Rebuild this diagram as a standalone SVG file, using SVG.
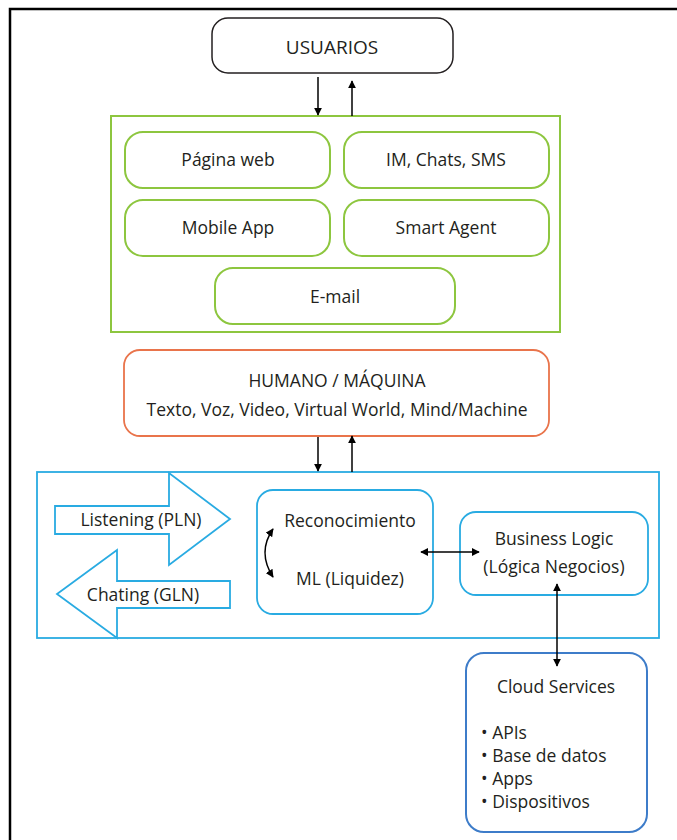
<svg xmlns="http://www.w3.org/2000/svg" width="677" height="840" viewBox="0 0 677 840">
  <style>
    text { font-family: "Open Sans", "Noto Sans", "DejaVu Sans", sans-serif; fill: #231f20; text-anchor: middle; }
    .t15 { font-size: 17.5px; }
    .t-big { font-size: 19px; }
    .box-black { fill: #fff; stroke: #231f20; stroke-width: 1.5; }
    .box-green { fill: #fff; stroke: #8dc63f; stroke-width: 2; }
    .box-orange { fill: #fff; stroke: #e9744b; stroke-width: 1.8; }
    .box-blue { fill: #fff; stroke: #29abe2; stroke-width: 1.8; }
    .box-dblue { fill: #fff; stroke: #3d7cc9; stroke-width: 2; }
    .conn { stroke: #000; stroke-width: 1.5; fill: none; }
  </style>
  <defs>
    <marker id="ah" viewBox="0 0 10 10" refX="9" refY="5" markerWidth="8" markerHeight="8" markerUnits="userSpaceOnUse" orient="auto-start-reverse">
      <path d="M0,0 L10,5 L0,10 z" fill="#000"/>
    </marker>
  </defs>

  <rect width="677" height="840" fill="#fff"/>
  <!-- page frame -->
  <path d="M10,840 V9 H677" fill="none" stroke="#000" stroke-width="2.5"/>

  <g id="usuarios">
    <rect class="box-black" x="212" y="18" width="241" height="55" rx="16"/>
    <text class="t-big" x="332" y="54">USUARIOS</text>
  </g>

  <g id="canales">
    <rect class="box-green" x="111" y="116" width="449" height="216"/>
  </g>
  <g id="pagina-web">
    <rect class="box-green" x="125" y="132" width="205" height="56" rx="18"/>
    <text class="t15" x="228" y="166">Página web</text>
  </g>
  <g id="im-chats">
    <rect class="box-green" x="344" y="132" width="205" height="56" rx="18"/>
    <text class="t15" x="446" y="166">IM, Chats, SMS</text>
  </g>
  <g id="mobile-app">
    <rect class="box-green" x="125" y="200" width="205" height="56" rx="18"/>
    <text class="t15" x="228" y="234">Mobile App</text>
  </g>
  <g id="smart-agent">
    <rect class="box-green" x="344" y="200" width="205" height="56" rx="18"/>
    <text class="t15" x="446" y="234">Smart Agent</text>
  </g>
  <g id="email">
    <rect class="box-green" x="215" y="268" width="240" height="56" rx="18"/>
    <text class="t15" x="335" y="303">E-mail</text>
  </g>

  <g id="humano-maquina">
    <rect class="box-orange" x="124" y="350" width="425" height="86" rx="16"/>
    <text class="t15" x="337" y="387">HUMANO / MÁQUINA</text>
    <text class="t15" x="337" y="416">Texto, Voz, Video, Virtual World, Mind/Machine</text>
  </g>

  <g id="procesamiento">
    <rect class="box-blue" x="37" y="472" width="622" height="166"/>
  </g>
  <g id="listening">
    <path class="box-blue" d="M55,506 H169 V473 L230,519 L169,565 V534 H55 Z"/>
    <text class="t15" x="141" y="526">Listening (PLN)</text>
  </g>
  <g id="chating">
    <path class="box-blue" d="M230,581 H117 V550 L57,594 L117,638 V608 H230 Z"/>
    <text class="t15" x="143" y="601">Chating (GLN)</text>
  </g>
  <g id="reconocimiento">
    <rect class="box-blue" x="257" y="490" width="176" height="124" rx="16"/>
    <text class="t15" x="350" y="527">Reconocimiento</text>
    <text class="t15" x="350" y="585">ML (Liquidez)</text>
  </g>
  <g id="business-logic">
    <rect class="box-blue" x="460" y="512" width="188" height="83" rx="16"/>
    <text class="t15" x="554" y="545">Business Logic</text>
    <text class="t15" x="554" y="573">(Lógica Negocios)</text>
  </g>

  <g id="cloud-services">
    <rect class="box-dblue" x="466" y="653" width="181" height="179" rx="18"/>
    <text class="t15" x="556" y="693">Cloud Services</text>
    <text class="t15" x="481" y="739" style="text-anchor:start">• APIs</text>
    <text class="t15" x="481" y="762" style="text-anchor:start">• Base de datos</text>
    <text class="t15" x="481" y="785" style="text-anchor:start">• Apps</text>
    <text class="t15" x="481" y="808" style="text-anchor:start">• Dispositivos</text>
  </g>

  <g id="connectors">
    <line class="conn" x1="318" y1="77" x2="318" y2="115" marker-end="url(#ah)"/>
    <line class="conn" x1="352" y1="116" x2="352" y2="81" marker-end="url(#ah)"/>
    <line class="conn" x1="318" y1="437" x2="318" y2="471" marker-end="url(#ah)"/>
    <line class="conn" x1="352" y1="472" x2="352" y2="436" marker-end="url(#ah)"/>
    <line class="conn" x1="421" y1="552" x2="479" y2="552" marker-start="url(#ah)" marker-end="url(#ah)"/>
    <line class="conn" x1="557" y1="584" x2="557" y2="666" marker-start="url(#ah)" marker-end="url(#ah)"/>
    <path class="conn" d="M273,529 Q257,552 273,577" marker-start="url(#ah)" marker-end="url(#ah)"/>
  </g>
</svg>
